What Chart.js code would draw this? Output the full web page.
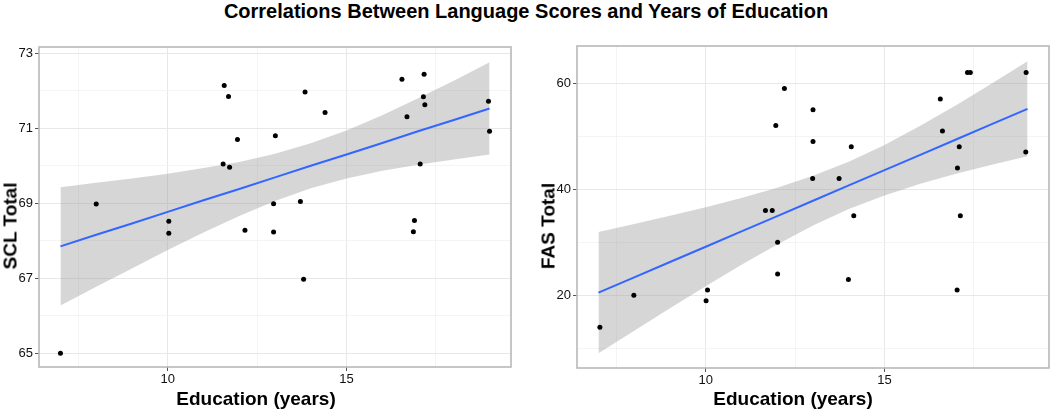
<!DOCTYPE html>
<html>
<head>
<meta charset="utf-8">
<script src="https://cdn.jsdelivr.net/npm/chart.js@4.4.1/dist/chart.umd.min.js"></script>
<style>
  html, body { margin:0; padding:0; background:#ffffff; }
  body { width:1052px; height:414px; overflow:hidden; position:relative; font-family:"Liberation Sans", Arial, sans-serif; color:#000; }
  .panel { position:absolute; top:0; height:414px; }
  .txt { position:absolute; white-space:nowrap; font-weight:bold; color:#000; }
  #mainTitle { left:0; width:1052px; top:1px; text-align:center; font-size:20px; line-height:20px; }
  .xt { font-size:19px; line-height:19px; top:389px; transform:translateX(-50%); }
  .yt { font-size:19px; line-height:19px; transform:translate(-50%,-50%) rotate(-90deg); }
</style>
</head>
<body>
<div id="mainTitle" class="txt">Correlations Between Language Scores and Years of Education</div>
<div class="panel" style="left:0;width:520px"><canvas id="chartSCL" width="520" height="414" style="width:520px;height:414px"></canvas></div>
<div class="panel" style="left:522px;width:530px"><canvas id="chartFAS" width="530" height="414" style="width:530px;height:414px"></canvas></div>
<div class="txt xt" style="left:256px">Education (years)</div>
<div class="txt xt" style="left:793px">Education (years)</div>
<div class="txt yt" style="left:10px;top:226px">SCL Total</div>
<div class="txt yt" style="left:548px;top:226px">FAS Total</div>
<script>
// ---------- data ----------
const educSCL = [7.00, 8.00, 10.03, 10.03, 11.58, 11.70, 11.55, 11.73, 11.95, 12.16, 12.96, 12.96, 13.01, 13.71, 13.80, 13.84, 14.40, 16.55, 16.69, 16.90, 16.87, 17.06, 17.15, 17.17, 17.19, 18.97, 19.00];
const sclTotal = [65.00, 68.98, 68.52, 68.20, 72.14, 71.85, 70.05, 69.96, 70.70, 68.28, 68.99, 68.23, 70.80, 69.05, 66.97, 71.97, 71.42, 72.31, 71.31, 68.54, 68.24, 70.05, 71.84, 72.44, 71.63, 71.72, 70.92];

const educFAS = [7.04, 7.99, 10.05, 10.01, 11.67, 11.86, 11.96, 12.01, 12.01, 12.20, 13.00, 13.00, 12.99, 13.73, 14.07, 13.99, 14.14, 16.56, 16.62, 17.04, 17.09, 17.12, 17.03, 17.32, 17.40, 18.96, 18.95];
const fasTotal = [14, 20, 21, 19, 36, 36, 52, 30, 24, 59, 55, 49, 42, 42, 48, 23, 35, 57, 51, 44, 48, 35, 21, 62, 62, 62, 47];

// fitted line and confidence band, read at whole years
const fitX     = [7, 8, 9, 10, 11, 12, 13, 14, 15, 16, 17, 18, 19];
const sclFit   = [67.85, 68.16, 68.46, 68.77, 69.08, 69.38, 69.69, 70.00, 70.30, 70.61, 70.92, 71.22, 71.53];
const sclUpper = [69.43, 69.55, 69.66, 69.79, 69.94, 70.10, 70.32, 70.60, 70.94, 71.35, 71.80, 72.27, 72.76];
const sclLower = [66.27, 66.77, 67.26, 67.75, 68.22, 68.66, 69.06, 69.40, 69.66, 69.87, 70.03, 70.17, 70.30];
const fasFit   = [20.50, 23.39, 26.28, 29.16, 32.05, 34.94, 37.83, 40.72, 43.60, 46.49, 49.38, 52.27, 55.16];
const fasUpper = [31.93, 33.44, 34.99, 36.61, 38.35, 40.28, 42.52, 45.19, 48.36, 51.97, 55.85, 59.92, 64.11];
const fasLower = [ 9.07, 13.34, 17.57, 21.71, 25.75, 29.60, 33.14, 36.25, 38.84, 41.01, 42.91, 44.62, 46.21];

// ticks / gridlines
const xTickLabels   = [10, 15];
const xGridLines    = [7.5, 10, 12.5, 15, 17.5];
const sclTickLabels = [65, 67, 69, 71, 73];
const sclGridLines  = [65, 66, 67, 68, 69, 70, 71, 72, 73];
const fasTickLabels = [20, 40, 60];
const fasGridLines  = [10, 20, 30, 40, 50, 60];

// ---------- helpers ----------
const pts = (xs, ys) => xs.map((x, i) => ({ x: x, y: ys[i] }));

const panelBorder = {
  id: 'panelBorder',
  afterDatasetsDraw(chart) {
    const { ctx, chartArea: a } = chart;
    ctx.save();
    ctx.strokeStyle = '#b8b8b8';
    ctx.lineWidth = 1.6;
    ctx.strokeRect(a.left, a.top, a.right - a.left, a.bottom - a.top);
    ctx.restore();
  }
};

function axisOpts(min, max, grid, labels, fitSize, isX) {
  return {
    type: 'linear',
    min: min, max: max,
    afterBuildTicks: (s) => { s.ticks = grid.map(v => ({ value: v })); },
    afterFit: (s) => { if (isX) s.height = fitSize; else s.width = fitSize; },
    border: { display: false },
    grid: {
      drawOnChartArea: true,
      drawTicks: true,
      tickLength: 4,
      color: (c) => (c.tick && labels.includes(c.tick.value)) ? '#e8e8e8' : '#f1f1f1',
      lineWidth: (c) => (c.tick && labels.includes(c.tick.value)) ? 1 : 0.8,
      tickColor: (c) => (c.tick && labels.includes(c.tick.value)) ? '#555555' : 'rgba(0,0,0,0)',
      tickWidth: 1
    },
    ticks: {
      autoSkip: false,
      maxRotation: 0,
      padding: isX ? 1 : 2,
      color: '#111111',
      font: { family: '"Liberation Sans", Arial, sans-serif', size: 13 },
      callback: (v) => labels.includes(v) ? String(v) : ''
    },
    title: { display: false }
  };
}

function makePanel(id, ex, ey, ax, lower, fit, upper, yMin, yMax, yGrid, yLabels, yWidth, pad) {
  return new Chart(document.getElementById(id), {
    type: 'scatter',
    data: {
      datasets: [
        { label: 'points', data: pts(ex, ey), showLine: false, pointRadius: 2.5, pointHoverRadius: 2.5,
          pointBackgroundColor: '#000000', pointBorderWidth: 0, order: 0 },
        { label: 'fit', data: pts(ax, fit), showLine: true, pointRadius: 0, borderColor: '#3366FF',
          borderWidth: 2, fill: false, order: 1 },
        { label: 'upper', data: pts(ax, upper), showLine: true, pointRadius: 0, borderWidth: 0,
          borderColor: 'rgba(0,0,0,0)', backgroundColor: 'rgba(153,153,153,0.4)', fill: '+1', order: 2 },
        { label: 'lower', data: pts(ax, lower), showLine: true, pointRadius: 0, borderWidth: 0,
          borderColor: 'rgba(0,0,0,0)', fill: false, order: 3 }
      ]
    },
    options: {
      responsive: false,
      animation: false,
      events: [],
      layout: { padding: { top: pad.top, right: pad.right, left: 0, bottom: 0 } },
      plugins: { legend: { display: false }, tooltip: { enabled: false }, title: { display: false } },
      scales: {
        x: axisOpts(6.4, 19.6, xGridLines, xTickLabels, 414 - pad.top - pad.plotH, true),
        y: axisOpts(yMin, yMax, yGrid, yLabels, yWidth, false)
      }
    },
    plugins: [panelBorder]
  });
}

// left: plot area x 39..511, y 47..367
makePanel('chartSCL', educSCL, sclTotal, fitX, sclLower, sclFit, sclUpper,
  64.63, 73.17, sclGridLines, sclTickLabels, 39,
  { top: 47, right: 9, plotH: 320 });
// right: plot area x 577..1049, y 46..368
makePanel('chartFAS', educFAS, fasTotal, fitX, fasLower, fasFit, fasUpper,
  6.3, 67.0, fasGridLines, fasTickLabels, 55,
  { top: 46, right: 3, plotH: 322 });
</script>
</body>
</html>
